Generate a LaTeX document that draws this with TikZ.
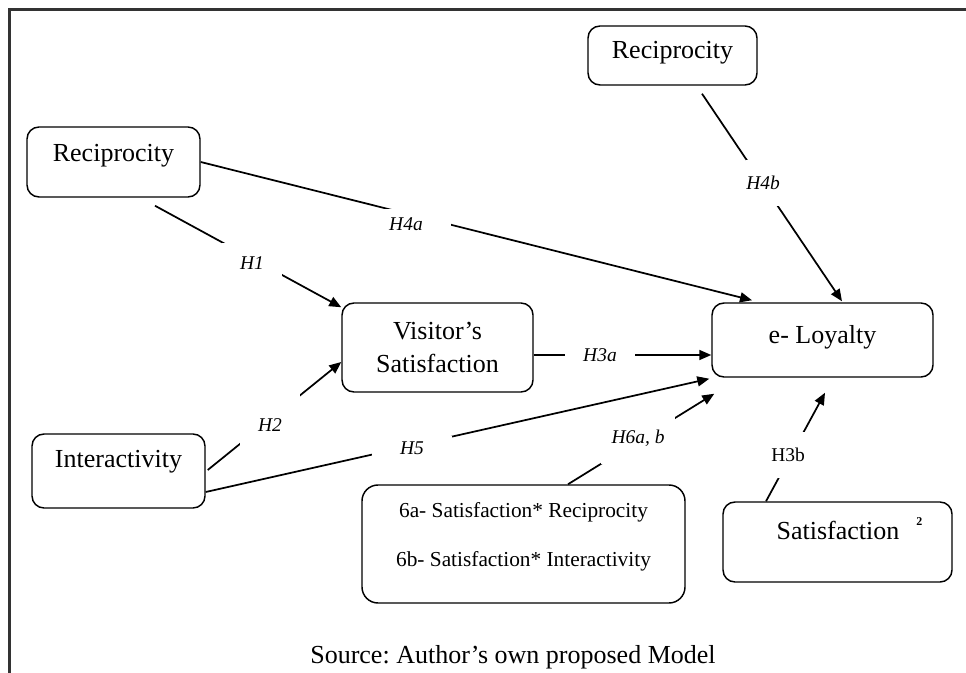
\documentclass[tikz,border=0pt]{standalone}
\usepackage{xcolor}
\usepackage{fontspec}
\setmainfont{Liberation Serif}
\frenchspacing
\usetikzlibrary{arrows.meta,calc}

\begin{document}
\begin{tikzpicture}[x=0.75pt,y=-0.75pt,
                box/.style={draw,line width=1.1pt,rounded corners=9pt,inner sep=0pt,font=\fontsize{19.5}{24.75}\selectfont},
                hyp/.style={fill=white,inner sep=0pt,font=\fontsize{14.6}{17}\selectfont\itshape},
                link/.style={line width=1.3pt,-{Triangle[length=9pt,width=7.5pt]}}]

                \useasboundingbox (0,0) rectangle (966,673);
                \draw[line width=2pt,black!80] (966,9.5) -- (9.5,9.5) -- (9.5,673);

                \node[box,minimum width=126.75pt,minimum height=44.25pt,text height=10.5pt,text depth=5.25pt] (recT) at (672.5,55.5) {Reciprocity};
                \node[box,minimum width=129.75pt,minimum height=52.5pt,text height=8pt,text depth=8pt] (recL) at (113.5,162) {Reciprocity};
                \node[box,minimum width=129.75pt,minimum height=55.5pt,text height=5pt,text depth=11pt] (inter) at (118.5,471) {Interactivity};
                \node[box,minimum width=143.25pt,minimum height=66.75pt,align=center] (vis) at (437.5,347.5) {Visitor’s\\Satisfaction};
                \node[box,minimum width=165.75pt,minimum height=55.5pt,text height=10pt,text depth=5.5pt] (loy) at (822.5,340) {e- Loyalty};
                \node[box,minimum width=171.75pt,minimum height=60pt,text height=6pt,text depth=10.5pt] (sat2) at (837.5,542)
                    {\hspace*{18pt}Satisfaction\hspace{12.75pt}\raisebox{10.5pt}{\fontsize{9}{9}\selectfont\bfseries 2}};
                \node[box,rounded corners=12pt,minimum width=242.25pt,minimum height=88.5pt,align=center,font=\fontsize{16}{19.5}\selectfont] (inter6) at (523.5,544)
                    {6a- Satisfaction* Reciprocity\\[17.25pt]6b- Satisfaction* Interactivity\\[-5pt]\mbox{}};

                \draw[link] ($(recL.south)+(41.5,8)$) -- ($(vis.north west)+(0,5)$);
                \draw[link] ($(inter.east)+(2,-1)$) -- ($(vis.west)+(0,14.5)$);
                \draw[link] ($(vis.east)+(0,7.5)$) -- ($(loy.west)+(0,15)$);
                \draw[link] (recL.east) -- ($(loy.north)+(-70.5,-2)$);
                \draw[link] ($(recT.south)+(29.5,8)$) -- ($(loy.north)+(19.5,-1)$);
                \draw[link] ($(inter.east)+(0,21)$) -- ($(loy.south west)+(-2,1)$);
                \draw[link] ($(inter6.north)+(44.5,0)$) -- ($(loy.south west)+(3,16)$);
                \draw[link] ($(sat2.north)+(-71.5,0)$) -- ($(loy.south)+(2.5,15)$);

                \node[hyp,inner xsep=13.5pt,inner ysep=10pt] (h1) at (252,263) {H1};
                \node[hyp,inner xsep=13.5pt,inner ysep=19pt] (h2) at (270,425) {H2};
                \node[hyp,inner xsep=13.5pt,inner ysep=2pt] (h3a) at (600,355) {H3a};
                \node[hyp,inner xsep=21pt,inner ysep=6pt] (h4a) at (406,224) {H4a};
                \node[hyp,inner xsep=0pt,inner ysep=12pt] (h4b) at (763,183) {H4b};
                \node[hyp,inner xsep=21pt,inner ysep=4pt] (h5) at (412,448) {H5};
                \node[hyp,inner xsep=8pt,inner ysep=13pt] (h6) at (638,438) {H6a, b};
                \node[hyp,font=\fontsize{14.6}{17}\selectfont,inner xsep=0pt,inner ysep=12.4pt] (h3b) at (788,455) {H3b};

                \node[font=\fontsize{19.5}{24}\selectfont] (src) at (513,657) {Source: Author’s own proposed Model};
            \end{tikzpicture}
\end{document}
